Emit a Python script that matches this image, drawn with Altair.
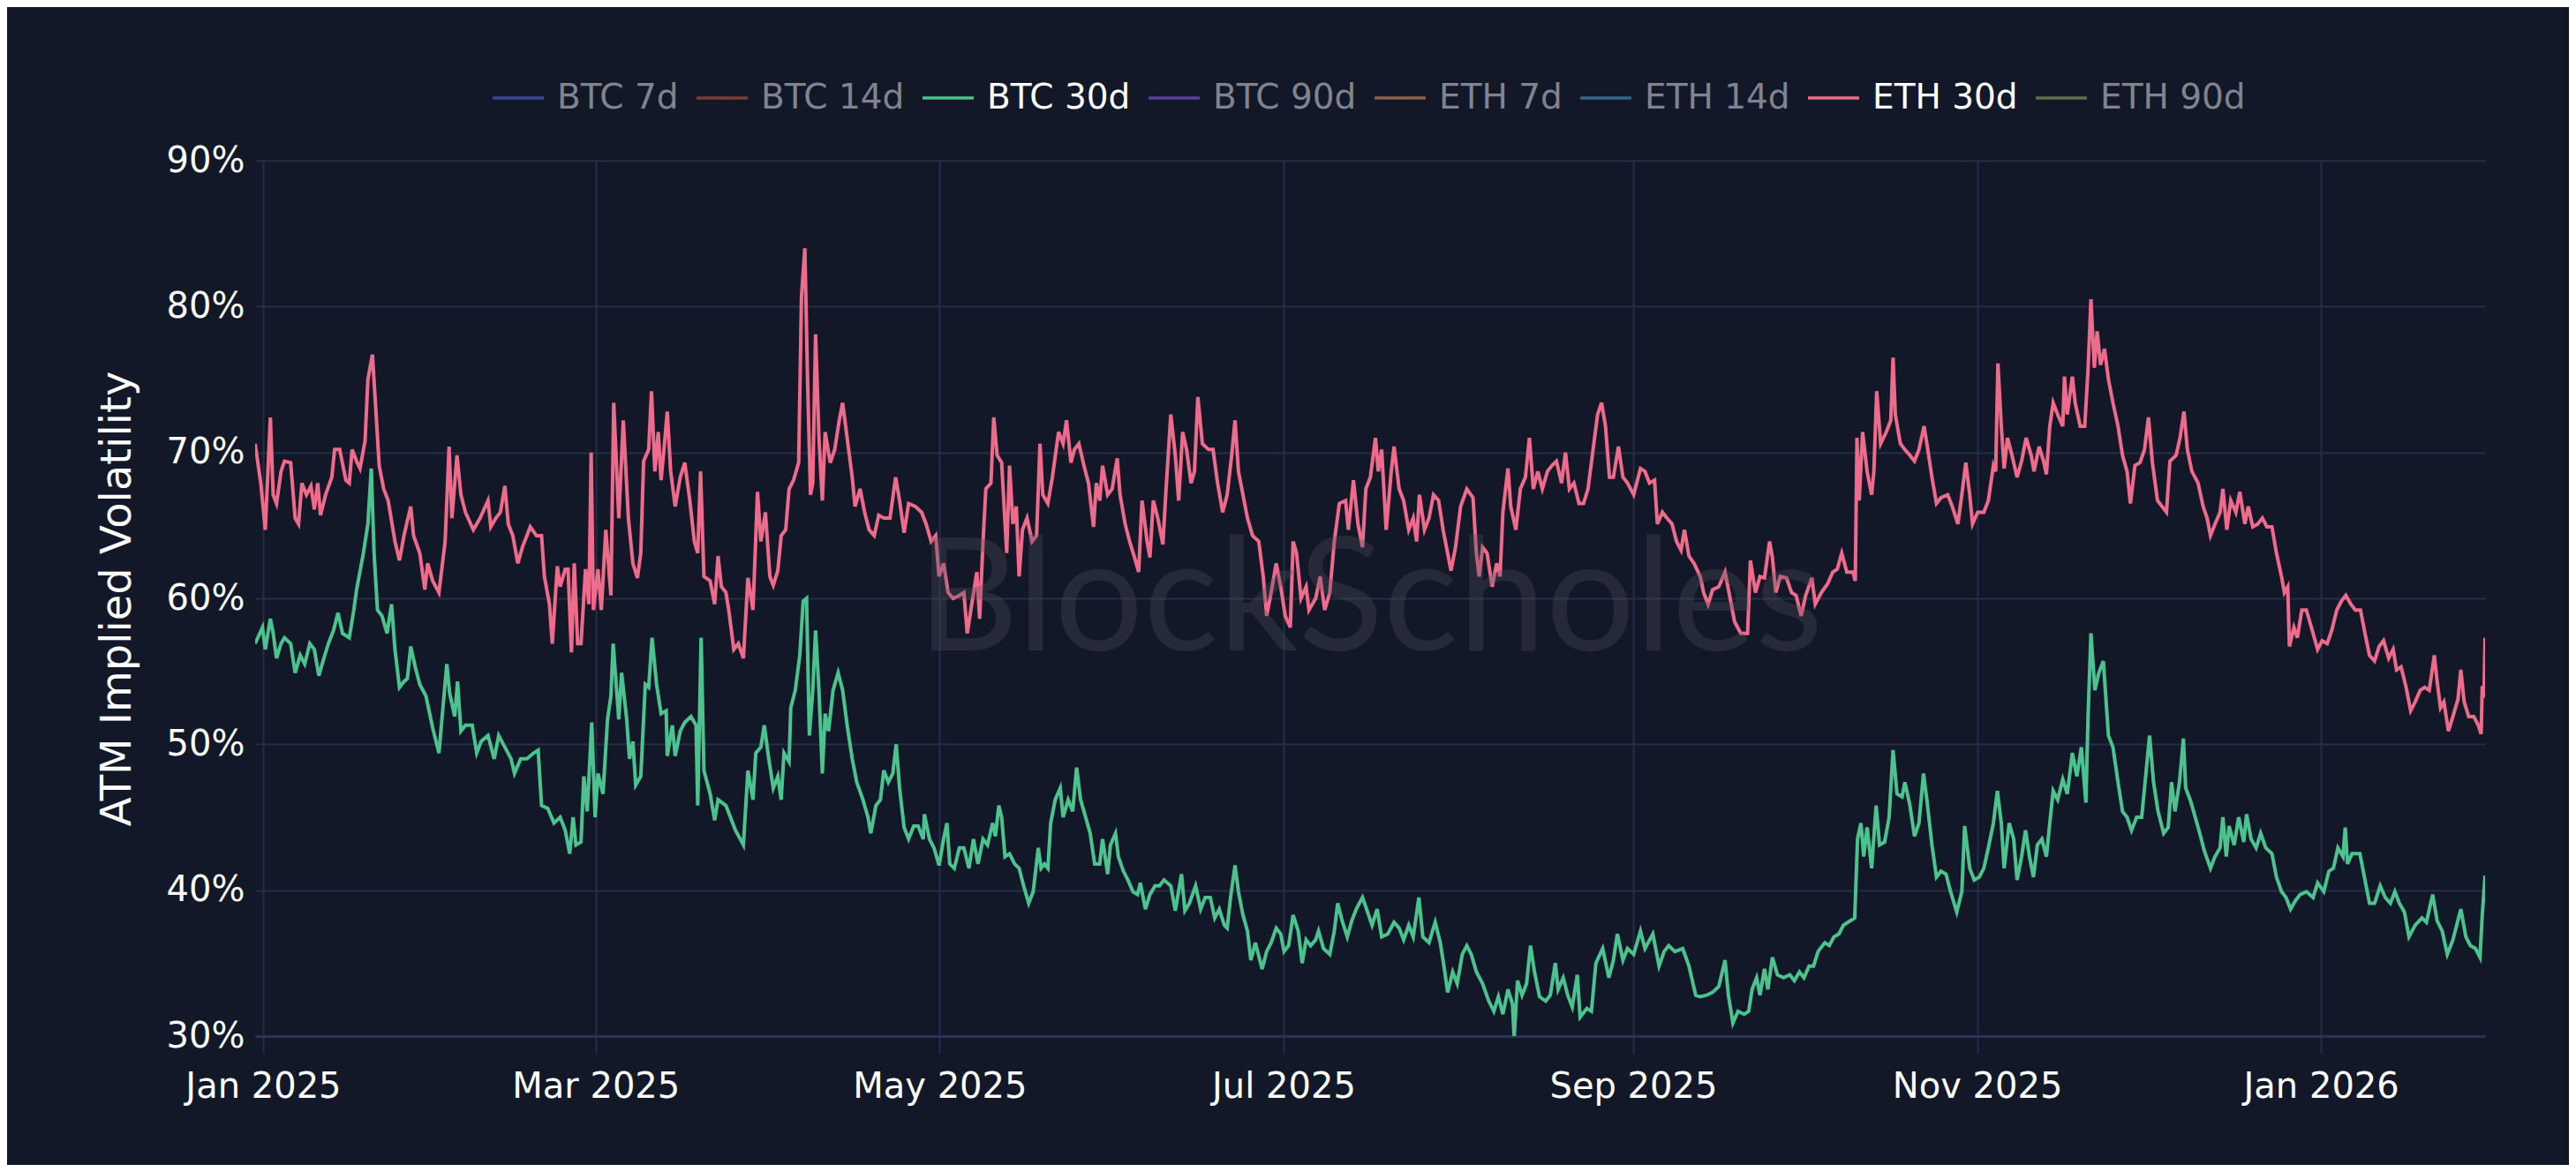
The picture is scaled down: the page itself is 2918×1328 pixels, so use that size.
import altair as alt
import pandas as pd

# ---- data (day offset from 2025-01-01, ATM IV in %) ----
eth_days = [
    -1.4, -0.4, 0.4, 1.3, 1.8, 2.4, 3.2, 3.8, 4.9, 5.7, 6.3, 6.9, 7.7, 8.5, 9.1, 9.7, 10.2, 11.1, 12.2, 12.7,
    13.6, 14.7, 15.3, 15.8, 16.7, 17.2, 18.1, 18.6, 19.4, 20.0, 20.6, 21.4, 22.2, 23.4, 24.2, 25.0, 26.2, 26.7,
    27.8, 28.7, 29.2, 30.1, 31.2, 32.3, 33.0, 33.5, 34.4, 35.1, 35.9, 37.3, 38.5, 39.9, 40.4, 41.3, 42.1, 42.9,
    43.5, 44.3, 45.2, 46.0, 47.4, 48.5, 49.4, 49.9, 50.8, 51.3, 52.2, 52.7, 53.6, 54.1, 54.7, 55.2, 55.8, 56.4,
    57.2, 57.8, 58.2, 58.6, 59.4, 60.0, 60.8, 61.7, 62.2, 63.1, 63.9, 64.8, 65.6, 66.4, 67.0, 67.5, 68.4, 68.9,
    69.5, 70.1, 70.6, 71.2, 71.7, 72.3, 73.1, 74.0, 74.8, 75.7, 76.5, 77.1, 77.6, 78.2, 79.3, 80.1, 80.7, 81.3,
    82.1, 82.6, 83.5, 84.3, 85.2,
    86.0, 86.9, 87.7, 88.3, 89.1, 89.9, 90.5, 91.3, 91.9, 92.7, 93.3, 94.1, 95.0, 95.5, 96.1, 96.6, 97.1, 97.5,
    98.0, 98.6, 99.2, 99.7, 100.6, 101.4, 102.2, 102.8, 103.6, 104.5, 105.0, 105.9, 106.7, 107.5, 108.4, 109.2,
    110.1, 111.2, 112.2, 112.9, 113.7, 114.5, 115.7, 116.8, 117.6, 118.5, 119.3, 119.9, 120.7, 121.5, 122.4,
    123.5, 124.3, 124.9, 125.7, 126.6, 127.1, 127.7, 128.2, 129.1, 129.6, 130.2, 131.0, 131.9, 132.4, 133.0,
    133.6, 134.1, 134.7, 135.5, 136.4, 137.2, 137.8, 138.3, 139.2, 140.0, 141.1, 141.9, 142.5, 143.3, 143.9,
    144.7, 145.6, 146.4, 147.3, 147.8, 148.4, 148.9, 149.8, 150.6, 151.5, 152.0, 152.9, 153.7, 154.5, 155.3,
    155.9, 156.8, 157.3, 157.9, 158.7, 159.6, 160.1, 161.0, 161.8, 162.4, 163.1, 163.8, 164.6, 165.2, 165.8,
    166.6, 167.7, 168.5, 169.3, 170.2, 171.0,
    171.8, 172.4, 173.0, 173.8, 174.6, 175.5, 176.6, 177.4, 178.0, 178.8, 179.7, 180.5, 181.3, 182.2, 182.7,
    183.3, 184.1, 185.0, 185.5, 186.7, 187.5, 188.3, 189.2, 190.0, 190.9, 192.0, 192.5, 193.4, 194.2, 195.0,
    195.6, 196.4, 197.3, 197.8, 198.4, 199.2, 200.1, 200.6, 201.5, 202.3, 203.2, 204.0, 204.6, 205.1, 206.0,
    206.8, 207.6, 208.5, 209.3, 210.1, 210.7, 211.5, 212.4, 213.5, 214.6, 215.2, 215.7, 216.3, 217.1, 218.0,
    218.8, 219.4, 219.9, 220.8, 221.3, 222.2, 223.0, 223.9, 224.6, 225.3, 226.1, 226.9, 227.8, 228.6, 229.4,
    230.3, 231.0, 231.7, 232.5, 233.4, 234.2, 235.0, 235.9, 236.7, 237.4, 238.1, 238.8, 239.5, 240.4, 241.2,
    242.0, 243.1, 244.3, 245.1, 245.9, 246.8, 247.3, 248.2, 249.0, 249.9, 250.7, 251.5, 252.1, 252.9, 253.8,
    254.9, 255.5, 256.3, 257.1,
    258.2, 259.3, 260.2, 261.0, 262.1, 263.3, 263.8, 264.7, 265.5, 266.3, 267.2, 267.7, 268.3, 269.1, 270.2,
    271.1, 271.9, 272.8, 273.6, 274.7, 275.3, 276.4, 277.5, 278.4, 279.2, 280.0, 280.9, 282.0, 282.4, 282.7,
    283.1, 283.7, 284.5, 285.3, 285.7, 286.2, 286.9, 287.9, 288.7, 289.1, 289.5, 290.4, 291.2, 292.1, 292.9,
    293.7, 294.6, 295.1, 296.0, 296.8, 297.6, 298.8, 299.6, 300.6, 301.3, 302.0, 302.7, 303.2, 304.1, 305.2,
    306.0, 306.9, 307.3, 307.7, 308.3, 308.8, 309.4, 310.2, 311.1, 311.9, 312.7, 313.6, 314.1, 315.0, 315.8,
    316.3, 316.9, 317.5, 318.3, 319.2, 319.5, 320.0, 320.9, 321.4, 322.3, 323.1, 323.7, 324.2, 324.8, 325.3,
    325.9, 326.6, 327.3, 328.1, 329.0, 329.8, 330.6, 331.2, 332.0, 332.9, 333.7, 334.4, 335.1, 336.0, 336.8,
    337.6, 338.2, 339.3, 340.0, 340.7, 341.3, 342.1, 343.2, 344.1,
    344.8, 345.4, 346.2, 347.1, 347.6, 348.3, 349.0, 349.9, 350.6, 351.5, 352.1, 352.9, 353.8, 354.6, 355.4,
    356.3, 357.1, 358.0, 358.5, 359.1, 359.4, 360.2, 360.8, 361.6, 362.4, 363.3, 364.4, 365.2, 366.1, 366.9,
    367.8, 368.6, 369.4, 370.3, 371.1, 372.0, 372.8, 373.6, 374.5, 375.3, 376.1, 377.0, 377.8, 378.4, 379.2,
    380.1, 380.9, 381.7, 382.6, 383.4, 384.2, 385.1, 385.6, 386.2, 386.8, 387.6, 388.4, 389.3, 389.8, 390.4,
    391.2, 392.1, 392.9, 393.4, 393.6, 393.9, 394.1,
]
eth_iv = [
    70.6, 67.9, 64.7, 72.4, 67.1, 66.5, 68.7, 69.4, 69.3, 65.5, 65.1, 67.9, 67.1, 67.7, 66.1, 67.9, 65.7, 67.1, 68.3, 70.2,
    70.2, 68.1, 67.9, 70.2, 69.3, 68.9, 70.8, 75.0, 76.7, 73.0, 69.1, 67.5, 66.7, 63.9, 62.6, 64.3, 66.3, 64.3,
    63.1, 60.6, 62.4, 61.2, 60.4, 63.9, 70.4, 65.5, 69.8, 67.1, 65.9, 64.7, 65.5, 66.7, 64.9, 65.5, 65.9, 67.7,
    65.1, 64.3, 62.4, 63.5, 64.9, 64.3, 64.3, 61.5, 59.6, 56.9, 62.2, 60.8, 62.0, 62.0, 56.3, 62.4, 56.9, 56.9,
    62.0, 59.6, 70.0, 59.2, 62.0, 59.2, 64.7, 60.2, 73.4, 65.5, 72.2, 65.5, 62.4, 61.4, 63.1, 69.4, 70.2, 74.2,
    68.7, 71.4, 68.1, 70.6, 72.8, 68.7, 66.3, 68.3, 69.3, 66.7, 63.9, 63.1, 68.7, 61.5, 61.2, 59.6, 62.9, 60.8,
    60.4, 59.2, 56.5, 56.9, 55.9,
    61.4, 59.2, 67.3, 63.9, 65.9, 61.5, 60.9, 61.9, 64.3, 64.7, 67.5, 68.1, 69.3, 80.7, 84.0, 74.6, 67.1, 67.9,
    78.1, 71.0, 66.7, 71.4, 69.3, 70.2, 72.2, 73.4, 71.0, 68.3, 66.3, 67.5, 65.9, 64.7, 64.3, 65.7,
    65.5, 65.5, 68.3, 66.7, 64.5, 66.5, 66.3, 65.9, 65.1, 63.9, 64.3, 61.5, 62.4, 60.4, 60.0,
    60.2, 60.4, 57.6, 59.6, 61.8, 58.6, 63.9, 67.5, 67.9, 72.4, 69.8, 69.3, 63.1, 69.1, 65.1,
    66.3, 61.5, 64.7, 65.5, 63.9, 64.3, 70.6, 67.1, 66.5, 68.3, 71.4, 70.6, 72.2, 69.3, 70.2,
    70.6, 69.1, 67.9, 64.9, 67.9, 66.7, 69.1, 67.1, 67.5, 69.6, 67.1, 65.1, 63.9, 62.9, 61.8,
    66.7, 63.9, 62.8, 66.7, 65.5, 63.7, 67.1, 72.6, 69.8, 66.7, 71.4, 70.2, 67.9, 68.7, 73.8,
    70.6, 70.2, 70.2, 67.9, 65.9, 67.1,
    69.8, 72.2, 68.7, 67.1, 65.5, 64.3, 63.9, 61.5, 58.8, 60.4, 62.4, 60.8, 58.8, 58.0, 63.9,
    63.1, 60.0, 60.8, 59.2, 60.0, 61.5, 59.2, 60.4, 63.9, 66.5, 66.7, 64.7, 68.1, 65.1, 63.5,
    67.5, 68.3, 71.0, 68.7, 70.2, 64.7, 68.7, 70.4, 67.5, 66.7, 64.7, 65.5, 63.9, 67.1, 64.7,
    65.5, 67.1, 66.7, 64.7, 63.1, 61.9, 63.5, 66.3, 67.5, 66.9, 63.1, 61.5, 63.5, 63.1, 60.8,
    62.4, 61.5, 65.9, 68.9, 66.3, 64.7, 67.5, 68.3, 71.0, 67.5, 68.7, 67.5, 68.7, 69.1, 69.4,
    67.9, 70.0, 67.5, 67.9, 66.5, 66.5, 67.5, 70.2, 72.6, 73.4, 71.8, 68.3, 68.3, 70.4, 68.3,
    67.9, 67.1, 68.9, 68.7, 67.9, 68.1, 65.1, 65.9, 65.5, 65.1, 63.9, 63.3, 64.7, 62.9, 62.4,
    61.5, 60.4, 59.6, 60.6,
    60.8, 61.8, 60.0, 58.4, 57.6, 57.6, 62.6, 60.4, 61.5, 61.4, 63.9, 62.8, 60.4, 61.5, 61.4,
    60.4, 60.2, 58.8, 60.2, 61.4, 59.6, 60.4, 61.0, 61.8, 62.0, 63.1, 61.8, 61.8, 61.2, 71.0,
    66.7, 71.4, 68.7, 67.1, 68.7, 74.2, 70.6, 71.4, 72.2, 76.5, 72.6, 70.6, 70.2, 69.8, 69.4,
    70.2, 71.8, 70.6, 68.3, 66.5, 66.9, 67.1, 66.3, 65.1, 67.1, 69.3, 67.1, 65.1, 65.9, 65.9,
    66.7, 69.1, 68.7, 76.1, 71.8, 68.9, 71.0, 69.8, 68.3, 69.4, 71.0, 69.8, 68.7, 70.4, 69.4,
    68.5, 71.8, 73.4, 72.6, 71.8, 75.2, 72.6, 75.2, 73.4, 71.8, 71.8, 75.8, 80.5, 75.8, 78.3,
    76.0, 77.1, 75.0, 73.4, 71.8, 69.8, 68.7, 66.5, 69.1, 69.3, 70.2, 72.4, 69.3, 66.7, 66.3,
    65.9, 69.4, 69.8, 71.0, 72.8, 70.2, 68.7, 67.9, 66.3,
    65.5, 64.3, 65.1, 65.9, 67.5, 64.7, 66.7, 65.9, 67.3, 65.1, 66.3, 64.9, 65.1, 65.5, 64.9,
    64.9, 63.1, 61.5, 60.4, 60.8, 56.7, 58.0, 57.3, 59.2, 59.2, 58.0, 56.5, 57.1, 56.9, 57.8,
    59.2, 59.8, 60.2, 59.6, 59.2, 59.2, 57.6, 56.1, 55.7, 56.7, 57.1, 55.9, 56.5, 55.1, 55.3,
    53.9, 52.3, 52.9, 53.7, 53.9, 53.7, 56.1, 54.3, 52.5, 52.9, 50.9, 51.9, 53.1, 55.1, 52.9,
    51.9, 51.9, 51.3, 50.7, 54.0, 53.2, 57.3,
]

btc_days = [
    -1.4, -0.1, 0.4, 1.3, 1.8, 2.4, 3.2, 3.8, 4.9, 5.7, 6.6, 7.4, 8.3, 9.1, 9.9, 10.8, 11.6, 12.5, 13.3, 14.1,
    15.3, 16.1, 16.6, 17.8, 18.6, 19.2, 19.7, 20.3, 21.1, 22.0, 22.8, 23.4, 24.2, 25.0, 25.6, 26.2, 27.0, 27.8,
    28.9, 30.1, 31.2, 32.0, 32.6, 33.1, 34.0, 34.5, 35.1, 35.9, 37.1, 37.9, 38.7, 39.9, 41.0, 41.8, 42.9, 44.0,
    44.6, 45.7, 46.8, 48.0, 48.8, 49.4, 50.5, 51.6, 52.7, 53.6, 54.4, 55.0, 55.5, 56.4, 56.9, 57.5, 58.3, 58.9,
    59.4, 60.3, 61.1, 61.7, 62.1, 63.1, 63.6, 64.5, 65.0, 65.6, 66.1, 67.0, 67.8, 68.4, 69.0, 69.8, 70.6, 71.5,
    71.7, 72.6, 73.1, 74.0, 74.8, 75.9, 76.8, 77.1, 77.7, 78.2, 79.3, 80.1, 80.7, 82.1, 82.9, 83.8, 85.2,
    86.0, 86.9, 87.4, 88.3, 88.9, 89.7, 90.5, 91.3, 91.9, 92.4, 93.3, 93.6, 94.4, 95.2, 95.8, 96.4, 96.9, 97.5,
    98.0, 98.6, 99.2, 99.7, 100.3, 101.1, 102.0, 102.8, 103.6, 104.5, 105.3, 106.4, 107.3, 107.8, 108.7, 109.5,
    110.1, 110.9, 111.7, 112.3, 112.9, 113.7, 114.5, 115.4, 116.2, 117.1, 117.3, 118.2, 119.0, 119.9, 120.7,
    121.3, 121.8, 122.6, 123.5, 124.3, 125.2, 126.0, 126.8, 127.7, 128.5, 129.4, 129.9, 130.5, 131.0, 131.6,
    132.4, 133.3, 134.1, 134.9, 135.8, 136.6, 137.5, 138.0, 138.6, 139.2, 139.7, 140.5, 141.4, 141.9, 142.8,
    143.6, 144.3, 145.0, 145.9, 146.7, 147.5, 148.4, 148.9, 149.8, 150.3, 151.2, 151.7, 152.6, 153.4, 154.3,
    155.1, 155.6, 156.5, 157.3, 158.2, 159.0, 159.8, 161.0, 161.8, 162.9, 163.5, 164.3, 165.4, 166.3, 167.1,
    168.0, 168.8, 169.6, 170.5,
    171.0, 171.6, 172.4, 173.0, 173.8, 174.6, 175.2, 176.0, 177.2, 178.0, 178.8, 179.7, 180.5, 181.1, 181.9,
    182.7, 183.6, 184.3, 185.0, 185.8, 186.7, 187.2, 188.1, 189.2, 190.0, 190.6, 191.4, 192.3, 193.1, 193.9,
    195.0, 195.9, 196.7, 197.6, 198.4, 199.5, 200.6, 201.5, 202.3, 203.2, 204.0, 205.0, 205.7, 206.8, 207.9,
    208.8, 209.6, 210.1, 211.0, 211.8, 212.7, 213.5, 214.3, 215.2, 216.3, 217.4, 218.3, 219.1, 219.9, 220.8,
    221.6, 221.9, 222.5, 223.3, 224.1, 224.8, 225.5, 226.4, 227.5, 228.3, 229.2, 229.7, 230.6, 231.4, 232.2,
    233.1, 233.6, 234.8, 235.6, 236.4, 237.6, 238.7, 239.5, 240.2, 241.2, 242.0, 243.1, 244.3, 245.1, 246.5,
    247.6, 248.5, 249.3, 250.4, 251.8, 252.9, 254.1, 254.9, 256.0, 257.1,
    258.2, 259.3, 259.9, 260.7, 261.6, 262.7, 263.5, 264.1, 264.9, 265.5, 266.3, 266.9, 267.7, 268.6, 269.7,
    270.8, 271.6, 272.5, 273.3, 274.2, 275.0, 275.8, 277.0, 277.8, 278.6, 279.5, 280.3, 281.1, 282.3, 282.8,
    283.4, 283.9, 284.5, 285.3, 286.1, 286.7, 287.6, 288.4, 289.1, 289.8, 290.7, 291.2, 292.1, 292.9, 293.7,
    294.5, 295.1, 296.0, 296.8, 297.6, 298.5, 299.3, 300.4, 301.3, 301.8, 302.7, 303.5, 304.4, 305.2, 306.0,
    306.9, 307.6, 308.3, 308.8, 309.7, 310.5, 311.1, 311.9, 312.6, 313.3, 314.0, 314.7, 315.5, 316.3, 316.9,
    317.5, 318.3, 319.2, 320.0, 320.9, 321.7, 322.5, 323.3, 323.7, 324.2, 324.9, 325.6, 326.4, 327.3, 328.1,
    329.0, 329.8, 330.6, 331.4, 332.3, 333.2, 333.8, 334.6, 335.3, 336.1, 337.1, 337.9, 338.5, 339.1, 339.9,
    340.6, 341.0, 341.8, 342.7, 343.5, 344.3,
    345.4, 346.2, 347.1, 347.6, 348.2, 348.7, 349.6, 350.4, 351.3, 351.8, 352.6, 353.5, 354.3, 355.2, 356.3,
    357.1, 358.0, 358.8, 359.6, 360.5, 361.3, 362.4, 363.6, 364.4, 365.5, 366.4, 367.2, 368.0, 368.9, 369.3,
    369.7, 370.5, 371.9, 372.8, 373.6, 374.5, 375.5, 376.4, 377.3, 378.1, 378.9, 379.8, 380.6, 381.7, 382.9,
    383.7, 384.8, 385.6, 386.5, 387.4, 388.4, 389.8, 390.7, 391.5, 392.4, 393.2, 393.6, 394.1,
]
btc_iv = [
    56.9, 58.0, 56.5, 58.6, 57.6, 55.9, 56.9, 57.3, 56.9, 54.9, 56.1, 55.5, 56.9, 56.5, 54.7, 55.9, 56.9, 57.8, 59.0, 57.6,
    57.3, 59.2, 60.6, 63.1, 65.1, 68.9, 63.1, 59.2, 58.8, 57.6, 59.6, 56.5, 53.9, 54.3, 54.5, 56.7, 55.3, 54.1,
    53.3, 51.1, 49.4, 52.9, 55.5, 53.5, 51.9, 54.3, 50.9, 51.3, 51.3, 49.4, 50.2, 50.6, 49.0, 50.6, 49.8, 49.0,
    48.0, 49.0, 49.0, 49.4, 49.6, 45.8, 45.6, 44.6, 45.0, 44.1, 42.5, 45.0, 43.1, 43.3, 47.8, 45.4, 51.5, 45.0,
    48.0, 46.6, 51.7, 53.3, 56.9, 51.7, 54.9, 51.7, 49.0, 50.2, 47.2, 47.8, 54.1, 53.9, 57.3, 54.1, 52.1, 52.3,
    49.2, 51.3, 49.2, 50.9, 51.5, 51.9, 51.3, 45.8, 57.3, 48.2, 46.6, 44.8, 46.2, 45.8, 45.0, 44.1, 43.1,
    48.2, 46.2, 49.4, 49.8, 51.3, 49.0, 47.0, 47.8, 46.2, 49.4, 48.8, 52.5, 53.7, 56.1, 59.8, 60.0, 50.6, 53.7,
    57.8, 53.7, 48.0, 52.1, 50.9, 53.7, 54.9, 53.7, 51.3, 49.0, 47.4, 46.2, 45.0, 43.9, 45.8, 46.2,
    48.2, 47.4, 48.0, 50.0, 47.0, 44.3, 43.5, 44.4, 44.4, 43.5, 45.2, 43.5, 42.9, 41.7, 43.5,
    44.6, 41.8, 41.5, 42.9, 42.9, 41.5, 43.5, 41.8, 43.5, 43.1, 44.6, 43.7, 45.8, 45.0, 42.3,
    42.5, 41.8, 41.5, 40.3, 39.1, 39.9, 42.9, 41.5, 41.8, 41.5, 44.6, 46.2, 47.0, 45.0, 46.2,
    45.4, 48.4, 46.2, 45.0, 43.9, 41.8, 41.8, 43.5, 41.1, 43.1, 43.9, 42.3, 41.3, 40.7, 39.9,
    39.7, 40.5, 38.7, 39.7, 40.3, 40.3, 40.7, 40.3, 38.6, 41.1, 38.6, 39.1, 40.3, 38.7, 39.5,
    39.5, 38.1, 38.7, 37.6,
    37.4, 39.5, 41.7, 39.9, 38.3, 37.2, 35.2, 36.4, 34.6, 35.8, 36.4, 37.4, 37.0, 35.8, 36.2,
    38.3, 37.2, 35.0, 36.6, 36.2, 36.6, 37.2, 36.0, 35.6, 37.2, 39.1, 37.9, 36.8, 37.9, 38.7,
    39.5, 38.5, 37.6, 38.7, 36.8, 37.0, 37.8, 37.4, 36.6, 37.6, 36.8, 39.5, 36.8, 36.4, 37.8,
    36.4, 34.4, 33.0, 34.4, 33.6, 35.6, 36.2, 35.6, 34.4, 33.6, 32.4, 31.7, 32.7, 31.5, 33.2,
    32.2, 29.9, 33.8, 32.8, 33.6, 36.2, 34.4, 32.7, 32.4, 32.8, 35.0, 33.2, 34.0, 32.8, 32.0,
    34.2, 31.3, 31.9, 31.7, 35.0, 36.0, 34.0, 35.2, 37.0, 35.2, 36.0, 35.6, 37.2, 36.0, 37.0,
    34.8, 35.8, 36.2, 35.8, 36.0, 34.8, 32.8, 32.7, 32.8, 33.0,
    33.4, 35.2, 32.8, 30.9, 31.7, 31.5, 31.7, 33.2, 34.0, 32.8, 34.6, 33.2, 35.4, 34.2, 34.0,
    34.2, 33.8, 34.4, 34.0, 34.8, 34.8, 35.8, 36.4, 36.2, 36.8, 37.0, 37.6, 37.8, 38.1, 43.5,
    44.6, 42.3, 44.3, 41.5, 45.8, 43.1, 43.3, 45.0, 49.6, 46.6, 46.4, 47.4, 45.8, 43.7, 44.6,
    48.0, 46.2, 43.1, 40.9, 41.3, 41.1, 39.9, 38.5, 39.9, 44.4, 41.5, 40.7, 40.9, 41.5, 42.9,
    44.6, 46.8, 44.6, 41.5, 44.6, 43.5, 40.7, 42.3, 44.1, 42.3, 40.9, 43.1, 43.5, 42.3, 44.6,
    46.8, 46.2, 47.6, 46.6, 49.4, 47.8, 49.8, 46.0, 52.1, 57.6, 53.7, 54.9, 55.7, 50.6, 49.8,
    47.4, 45.4, 45.0, 44.1, 45.0, 45.0, 47.4, 50.6, 47.4, 45.4, 43.9, 44.3, 47.4, 45.4, 47.4,
    50.4, 47.0, 46.2, 45.0, 43.9, 42.7,
    41.5, 42.3, 42.9, 45.0, 42.3, 44.4, 43.1, 45.0, 43.3, 45.2, 43.5, 42.9, 43.9, 42.9, 42.5,
    40.9, 39.9, 39.5, 38.7, 39.3, 39.7, 39.9, 39.5, 40.5, 39.9, 41.3, 41.5, 42.9, 42.3, 44.3,
    41.8, 42.5, 42.5, 40.7, 39.1, 39.1, 40.3, 39.5, 39.1, 39.9, 39.1, 38.5, 36.8, 37.6, 38.1,
    37.8, 39.7, 37.9, 37.2, 35.6, 36.6, 38.7, 36.8, 36.2, 36.0, 35.4, 38.3, 41.0,
]

series_names = ["BTC 7d", "BTC 14d", "BTC 30d", "BTC 90d", "ETH 7d", "ETH 14d", "ETH 30d", "ETH 90d"]
series_colors = ["#3b4597", "#7c3b33", "#4cc38f", "#5b3e99", "#8d6044", "#2e6886", "#ee6b8b", "#5b7149"]
y_ticks = [30, 40, 50, 60, 70, 80, 90]

start = pd.Timestamp("2025-01-01")
frames = []
for name, days, vals in [("BTC 30d", btc_days, btc_iv), ("ETH 30d", eth_days, eth_iv)]:
    frames.append(pd.DataFrame({
        "date": (start + pd.to_timedelta(days, unit="D")).round("min"),
        "iv": vals,
        "series": name,
    }))
df = pd.concat(frames, ignore_index=True)

BG = "#121827"
GRID = "#252d49"
W, H = 2526, 992

x_enc = alt.X(
    "date:T",
    sort=None,
    scale=alt.Scale(nice=False),
    axis=alt.Axis(
        title=None,
        format="%b %Y",
        values=[alt.DateTime(year=2025, month=m, date=1) for m in (1, 3, 5, 7, 9, 11)]
        + [alt.DateTime(year=2026, month=1, date=1)],
        labelColor="#ffffff", labelFont="DejaVu Sans", labelFontSize=40, labelLimit=500,
        labelPadding=18, tickSize=19, tickColor=GRID, tickWidth=2,
        grid=True, gridColor=GRID, gridWidth=2,
        domain=True, domainColor="#2a3358", domainWidth=3,
        labelFlush=False,
    ),
)
y_enc = alt.Y(
    "iv:Q",
    scale=alt.Scale(domain=[30, 90], nice=False, zero=False),
    axis=alt.Axis(
        title="ATM Implied Volatility",
        values=y_ticks,
        labelExpr="datum.value + '%'",
        labelColor="#ffffff", labelFont="DejaVu Sans", labelFontSize=40, labelPadding=12,
        ticks=False, domain=False,
        grid=True, gridColor=GRID, gridWidth=2,
        titleColor="#ffffff", titleFont="DejaVu Sans", titleFontSize=48, titleFontWeight="normal",
        titlePadding=31,
    ),
)

lines = alt.Chart(df).mark_line(strokeWidth=4, clip=True, interpolate="linear").encode(
    x=x_enc,
    y=y_enc,
    color=alt.Color(
        "series:N",
        scale=alt.Scale(domain=series_names, range=series_colors),
        legend=alt.Legend(
            title=None, orient="none", direction="horizontal",
            legendX=267, legendY=-102,
            symbolType="stroke", symbolSize=3364, symbolStrokeWidth=3.5,
            labelFont="DejaVu Sans", labelFontSize=39,
            labelColor={"expr": "indexof(['BTC 30d','ETH 30d'], datum.label) >= 0 ? '#ffffff' : '#80848f'"},
            labelOffset=13, columnPadding=13, symbolOpacity=1,
            labelLimit=400,
        ),
    ),
    detail="series:N",
)

watermark = alt.Chart(pd.DataFrame({"t": ["BlockScholes"]})).mark_text(
    font="Lato", fontSize=178, color="#50515c", opacity=0.32, align="center", baseline="middle",
).encode(
    text="t:N",
    x=alt.value(W / 2),
    y=alt.value(H / 2 + 6),
)

chart = alt.layer(lines, watermark).properties(
    width=W, height=H,
    background=BG,
    padding={"left": 281, "top": 174, "right": 95, "bottom": 146},
    autosize=alt.AutoSizeParams(type="none"),
).configure_view(stroke=None)

chart.save("out.html", embed_options={"renderer": "svg", "actions": False})
